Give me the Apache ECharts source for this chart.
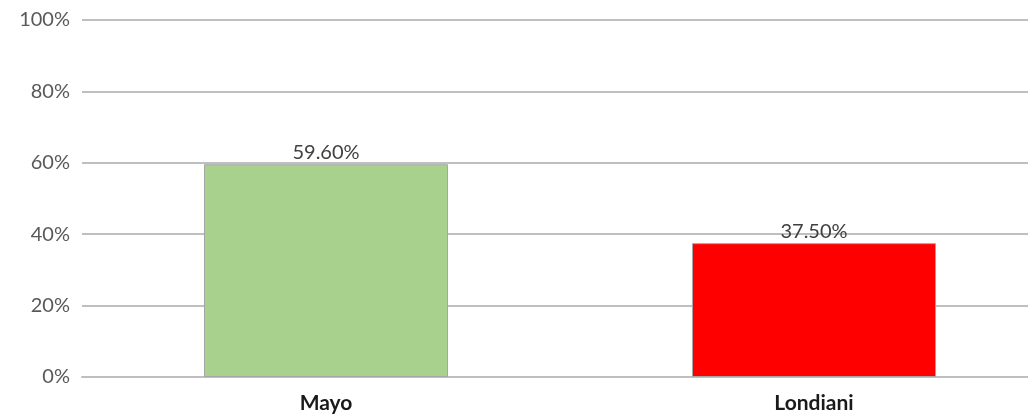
<!DOCTYPE html>
<html>
<head>
<meta charset="utf-8">
<script src="https://cdn.jsdelivr.net/npm/echarts@6/dist/echarts.min.js"></script>
<style>
	html,body{margin:0;padding:0;background:#fff;overflow:hidden;}
	/* 图表比窗口宽一些，右侧被裁掉 */
	#chart{width:1058px;height:418px;}
</style>
</head>
<body>
<div id="chart"></div>
<script>
	// 数据
	var categories = ['Mayo', 'Londiani'];
	var values = [59.6, 37.5];
	var barColors = ['#A9D18E', '#FF0000'];

	var chart = echarts.init(document.getElementById('chart'));
	var option = {
		animation: false,
		grid: {
			left: 82,
			right: 0,
			top: 20,
			bottom: 41
		},
		xAxis: {
			type: 'category',
			data: categories,
			axisLine: {lineStyle: {color: '#BFBFBF', width: 2}},
			axisTick: {show: false},
			axisLabel: {
				margin: 16,
				color: '#1a1a1a',
				fontFamily: 'Lato',
				fontWeight: 'bold',
				fontSize: 21
			}
		},
		yAxis: {
			type: 'value',
			min: 0,
			max: 100,
			interval: 20,
			axisLine: {show: false},
			axisTick: {show: false},
			splitLine: {lineStyle: {color: '#BFBFBF', width: 2}},
			axisLabel: {
				margin: 12,
				color: '#595959',
				fontFamily: 'Lato',
				fontSize: 20,
				formatter: function(v){ return v + '%'; }
			}
		},
		series: [{
			type: 'bar',
			barWidth: '50%',
			data: values.map(function(v, i){
				return {value: v, itemStyle: {color: barColors[i]}};
			}),
			itemStyle: {borderColor: '#A6A6A6', borderWidth: 1},
			label: {
				show: true,
				position: 'top',
				distance: 2,
				color: '#404040',
				fontFamily: 'Lato',
				fontSize: 20,
				formatter: function(p){ return p.value.toFixed(2) + '%'; }
			}
		}]
	};
	chart.setOption(option);
</script>
</body>
</html>
